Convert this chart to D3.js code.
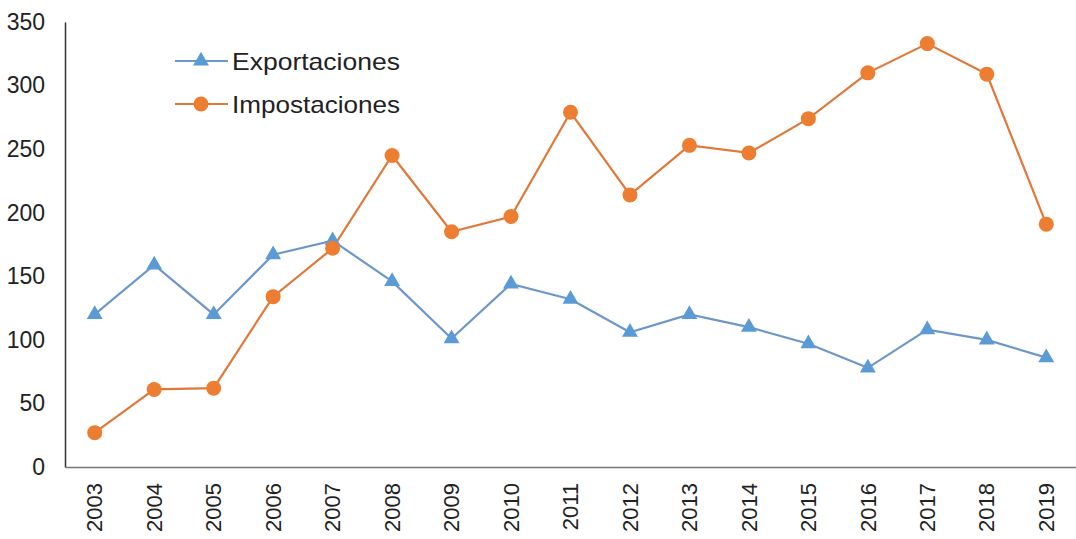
<!DOCTYPE html>
<html><head><meta charset="utf-8">
<script src="https://cdn.jsdelivr.net/npm/d3@7/dist/d3.min.js"></script>
<style>body{margin:0;background:#fff}svg{display:block}text{font-family:"Liberation Sans",Arial,sans-serif;fill:#222}</style>
</head><body><svg id="c" width="1076" height="539"></svg>
<script>
const years = ["2003","2004","2005","2006","2007","2008","2009","2010","2011","2012","2013","2014","2015","2016","2017","2018","2019"];
const exportaciones = [120,159,120,167,178,146,101,144,132,106,120,110,97,78,108,100,86];
const impostaciones = [27,61,62,134,172,245,185,197,279,214,253,247,274,310,333,309,191];
const yTicks = [0,50,100,150,200,250,300,350];
const seriesNames = ["Exportaciones","Impostaciones"];

const svg = d3.select("#c");
const x = d3.scaleBand().domain(years).range([65,1076]);
const y = d3.scaleLinear().domain([0,350]).range([467,22]);
const cx = d => x(d) + x.bandwidth()/2;

// y axis
const ya = svg.append("g").attr("transform","translate(65,0)")
  .call(d3.axisLeft(y).tickValues(yTicks).tickSize(0).tickPadding(20));
ya.select(".domain").attr("stroke","#333").attr("stroke-width",1.5);
ya.selectAll("text").style("font-size","23px").attr("fill","#222").attr("font-family","Liberation Sans, Arial, sans-serif");

// x axis
const xa = svg.append("g").attr("transform","translate(0,467)")
  .call(d3.axisBottom(x).tickSize(0).tickPadding(0));
xa.select(".domain").attr("stroke","#777").attr("stroke-width",1.5);
xa.selectAll("text").style("font-size","22px").attr("fill","#222").attr("font-family","Liberation Sans, Arial, sans-serif")
  .attr("text-anchor","end").attr("transform","rotate(-90)").attr("x",-16).attr("y",0).attr("dy","0.35em");

const line = d3.line().x((d,i)=>cx(years[i])).y(d=>y(d));
const blue = "#5B9BD5", orange = "#ED7D31";
const tri = d3.symbol().type(d3.symbolTriangle).size(110);

svg.append("path").datum(exportaciones).attr("d",line).attr("fill","none").attr("stroke","#6d97c9").attr("stroke-width",2.2);
svg.append("path").datum(impostaciones).attr("d",line).attr("fill","none").attr("stroke","#e0783a").attr("stroke-width",2.2);

svg.selectAll(".tri").data(exportaciones).enter().append("path")
  .attr("d",tri).attr("fill",blue)
  .attr("transform",(d,i)=>`translate(${cx(years[i])},${y(d)})`);
svg.selectAll(".dot").data(impostaciones).enter().append("circle")
  .attr("cx",(d,i)=>cx(years[i])).attr("cy",d=>y(d)).attr("r",7.5).attr("fill",orange);

// legend
const lg = svg.append("g");
const ly = [61,104];
seriesNames.forEach((n,i)=>{
  const c = i===0 ? "#6d97c9" : "#e0783a";
  lg.append("line").attr("x1",175).attr("x2",228).attr("y1",ly[i]).attr("y2",ly[i]).attr("stroke",c).attr("stroke-width",2.2);
  if(i===0) lg.append("path").attr("d",tri).attr("fill",blue).attr("transform",`translate(201,${ly[i]})`);
  else lg.append("circle").attr("cx",201).attr("cy",ly[i]).attr("r",7.5).attr("fill",orange);
  lg.append("text").attr("x",232).attr("y",ly[i]).attr("dy","0.36em").style("font-size","24px")
    .attr("textLength",168).attr("lengthAdjust","spacingAndGlyphs").text(n);
});
</script></body></html>
